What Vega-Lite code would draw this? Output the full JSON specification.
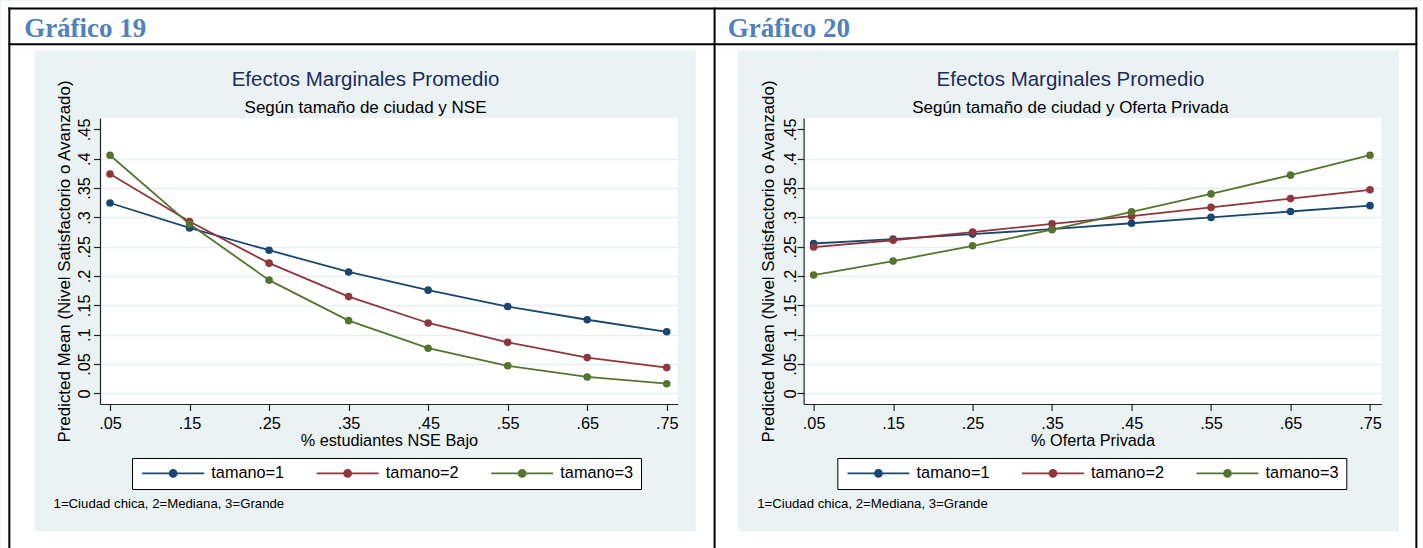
{
  "$schema": "https://vega.github.io/schema/vega-lite/v6.json",
  "background": "#eaf2f3",
  "padding": 0,
  "spacing": 125.6,
  "bounds": "flush",
  "resolve": {"scale": {"color": "independent"}, "legend": {"color": "independent"}},
  "config": {
    "font": "Liberation Sans",
    "view": {"stroke": null, "fill": "white"},
    "axis": {
      "domainColor": "#222222",
      "domainWidth": 1.2,
      "tickColor": "#222222",
      "tickWidth": 1.2,
      "tickSize": 6.5,
      "labelColor": "black",
      "labelFont": "Liberation Sans",
      "labelFontSize": 16.3,
      "labelOverlap": false,
      "labelFlush": false,
      "labelBound": false,
      "titleColor": "black",
      "titleFont": "Liberation Sans",
      "titleFontSize": 16.3,
      "titleFontWeight": "normal"
    },
    "legend": {
      "orient": "none",
      "legendY": 340,
      "direction": "horizontal",
      "fillColor": "white",
      "strokeColor": "black",
      "padding": 7,
      "columnPadding": 27.5,
      "symbolOffset": 26,
      "labelOffset": 30,
      "symbolType": "M-6.2,0L6.2,0M-0.7,0A0.7,0.7,0,1,0,0.7,0A0.7,0.7,0,1,0,-0.7,0M-0.5,0A0.5,0.5,0,1,0,0.5,0A0.5,0.5,0,1,0,-0.5,0M-0.3,0A0.3,0.3,0,1,0,0.3,0A0.3,0.3,0,1,0,-0.3,0M-0.1,0A0.1,0.1,0,1,0,0.1,0A0.1,0.1,0,1,0,-0.1,0",
      "symbolSize": 100,
      "symbolStrokeWidth": 1.8,
      "labelFont": "Liberation Sans",
      "labelFontSize": 16.3,
      "labelColor": "black"
    }
  },
  "datasets": {
    "nse": [
      {"pct": 0.05, "tamano": 1, "media": 0.3245}, {"pct": 0.15, "tamano": 1, "media": 0.282},
      {"pct": 0.25, "tamano": 1, "media": 0.244}, {"pct": 0.35, "tamano": 1, "media": 0.207},
      {"pct": 0.45, "tamano": 1, "media": 0.176}, {"pct": 0.55, "tamano": 1, "media": 0.148},
      {"pct": 0.65, "tamano": 1, "media": 0.1255}, {"pct": 0.75, "tamano": 1, "media": 0.105},
      {"pct": 0.05, "tamano": 2, "media": 0.374}, {"pct": 0.15, "tamano": 2, "media": 0.293},
      {"pct": 0.25, "tamano": 2, "media": 0.222}, {"pct": 0.35, "tamano": 2, "media": 0.165},
      {"pct": 0.45, "tamano": 2, "media": 0.120}, {"pct": 0.55, "tamano": 2, "media": 0.087},
      {"pct": 0.65, "tamano": 2, "media": 0.061}, {"pct": 0.75, "tamano": 2, "media": 0.044},
      {"pct": 0.05, "tamano": 3, "media": 0.406}, {"pct": 0.15, "tamano": 3, "media": 0.2886},
      {"pct": 0.25, "tamano": 3, "media": 0.193}, {"pct": 0.35, "tamano": 3, "media": 0.124},
      {"pct": 0.45, "tamano": 3, "media": 0.077}, {"pct": 0.55, "tamano": 3, "media": 0.047},
      {"pct": 0.65, "tamano": 3, "media": 0.028}, {"pct": 0.75, "tamano": 3, "media": 0.0165}
    ],
    "oferta": [
      {"pct": 0.05, "tamano": 1, "media": 0.2555}, {"pct": 0.15, "tamano": 1, "media": 0.263},
      {"pct": 0.25, "tamano": 1, "media": 0.2715}, {"pct": 0.35, "tamano": 1, "media": 0.280},
      {"pct": 0.45, "tamano": 1, "media": 0.290}, {"pct": 0.55, "tamano": 1, "media": 0.300},
      {"pct": 0.65, "tamano": 1, "media": 0.310}, {"pct": 0.75, "tamano": 1, "media": 0.320},
      {"pct": 0.05, "tamano": 2, "media": 0.2494}, {"pct": 0.15, "tamano": 2, "media": 0.261},
      {"pct": 0.25, "tamano": 2, "media": 0.275}, {"pct": 0.35, "tamano": 2, "media": 0.289},
      {"pct": 0.45, "tamano": 2, "media": 0.302}, {"pct": 0.55, "tamano": 2, "media": 0.317},
      {"pct": 0.65, "tamano": 2, "media": 0.332}, {"pct": 0.75, "tamano": 2, "media": 0.347},
      {"pct": 0.05, "tamano": 3, "media": 0.2017}, {"pct": 0.15, "tamano": 3, "media": 0.2255},
      {"pct": 0.25, "tamano": 3, "media": 0.2516}, {"pct": 0.35, "tamano": 3, "media": 0.279},
      {"pct": 0.45, "tamano": 3, "media": 0.3095}, {"pct": 0.55, "tamano": 3, "media": 0.340},
      {"pct": 0.65, "tamano": 3, "media": 0.372}, {"pct": 0.75, "tamano": 3, "media": 0.406}
    ]
  },
  "hconcat": [
    {
      "width": 577.7,
      "height": 286,
      "title": {
        "text": "Efectos Marginales Promedio",
        "subtitle": "Según tamaño de ciudad y NSE",
        "anchor": "middle",
        "frame": "group",
        "orient": "top",
        "offset": -115,
        "dx": -23.3,
        "font": "Liberation Sans",
        "fontSize": 20.5,
        "fontWeight": "normal",
        "color": "#1c2c5b",
        "subtitleFont": "Liberation Sans",
        "subtitleFontSize": 17,
        "subtitleColor": "black",
        "subtitlePadding": 9
      },
      "layer": [
        {
          "data": {"values": [{}]},
          "mark": {"type": "rect", "fill": "white"},
          "encoding": {
            "x": {"datum": -0.0871, "type": "quantitative", "scale": {"domain": [0.0374, 0.7638], "nice": false, "zero": false}},
            "x2": {"datum": 0.8098},
            "y": {"datum": 0.585, "type": "quantitative", "scale": {"domain": [-0.0181, 0.4694], "nice": false, "zero": false}},
            "y2": {"datum": 0.6693}
          }
        },
        {
          "data": {"values": [{}]},
          "mark": {"type": "rect", "fill": "white"},
          "encoding": {
            "x": {"datum": -0.0871, "type": "quantitative"},
            "x2": {"datum": -0.045},
            "y": {"datum": -0.2648, "type": "quantitative"},
            "y2": {"datum": 0.585}
          }
        },
        {
          "data": {"values": [{}]},
          "mark": {"type": "rect", "fill": "white"},
          "encoding": {
            "x": {"datum": 0.7865, "type": "quantitative"},
            "x2": {"datum": 0.8098},
            "y": {"datum": -0.2648, "type": "quantitative"},
            "y2": {"datum": 0.585}
          }
        },
        {
          "data": {"values": [{}]},
          "mark": {"type": "rect", "fill": "white"},
          "encoding": {
            "x": {"datum": -0.0871, "type": "quantitative"},
            "x2": {"datum": 0.8098},
            "y": {"datum": -0.2648, "type": "quantitative"},
            "y2": {"datum": -0.2352}
          }
        },
        {
          "data": {"values": [{}]},
          "mark": {"type": "rule", "stroke": "black", "strokeWidth": 2},
          "encoding": {
            "x": {"datum": -0.0766, "type": "quantitative"},
            "y": {"datum": -0.2648, "type": "quantitative"},
            "y2": {"datum": 0.6579}
          }
        },
        {
          "data": {"values": [{}]},
          "mark": {"type": "rule", "stroke": "black", "strokeWidth": 2},
          "encoding": {
            "x": {"datum": -0.0779, "type": "quantitative"},
            "x2": {"datum": 0.8098},
            "y": {"datum": 0.6562, "type": "quantitative"}
          }
        },
        {
          "data": {"values": [{}]},
          "mark": {"type": "rule", "stroke": "black", "strokeWidth": 2},
          "encoding": {
            "x": {"datum": -0.0779, "type": "quantitative"},
            "x2": {"datum": 0.8098},
            "y": {"datum": 0.5949, "type": "quantitative"}
          }
        },
        {
          "data": {"name": "nse"},
          "mark": {"type": "line", "strokeWidth": 1.8, "point": {"filled": true, "size": 58, "opacity": 1}},
          "encoding": {
            "x": {
              "field": "pct", "type": "quantitative",
              "scale": {"domain": [0.0374, 0.7638], "nice": false, "zero": false},
              "axis": {
                "grid": false,
                "values": [0.05, 0.15, 0.25, 0.35, 0.45, 0.55, 0.65, 0.75],
                "labelExpr": "slice(format(datum.value, '.2f'), 1)",
                "labelOverlap": false,
                "labelAngle": 0, "labelAlign": "center", "labelBaseline": "alphabetic", "labelPadding": 17.8,
                "title": "% estudiantes NSE Bajo", "titleBaseline": "alphabetic", "titleY": 41.2
              }
            },
            "y": {
              "field": "media", "type": "quantitative",
              "scale": {"domain": [-0.0181, 0.4694], "nice": false, "zero": false},
              "axis": {
                "grid": true,
                "gridColor": {"condition": {"test": "datum.value > 0.42", "value": "transparent"}, "value": "#e6eff1"},
                "gridWidth": 1.6,
                "tickCount": 10,
                "values": [0, 0.05, 0.1, 0.15, 0.2, 0.25, 0.3, 0.35, 0.4, 0.45],
                "labelExpr": "datum.value == 0 ? '0' : slice(format(datum.value, '.2~f'), 1)",
                "labelOverlap": false,
                "labelAngle": 270, "labelAlign": "center", "labelBaseline": "alphabetic", "labelPadding": 4,
                "labelFontSize": 16.3,
                "title": "Predicted Mean (Nivel Satisfactorio o Avanzado)",
                "titleFontSize": 16.9,
                "titleAngle": 270, "titleAlign": "center", "titleBaseline": "alphabetic",
                "titleX": -30.6, "titleY": 143
              }
            },
            "color": {
              "field": "tamano", "type": "nominal",
              "scale": {"domain": [1, 2, 3], "range": ["#1a476f", "#90353b", "#55752f"]},
              "legend": {"title": null, "legendX": 32, "labelExpr": "'tamano=' + datum.label"}
            }
          }
        },
        {
          "data": {"values": [{}]},
          "mark": {"type": "text", "text": "Gráfico 19", "align": "left", "baseline": "alphabetic", "font": "Liberation Serif", "fontWeight": "bold", "fontSize": 27, "fill": "#4f81bd"},
          "encoding": {
            "x": {"datum": -0.058, "type": "quantitative"},
            "y": {"datum": 0.608, "type": "quantitative"}
          }
        },
        {
          "data": {"values": [{}]},
          "mark": {"type": "text", "text": "1=Ciudad chica, 2=Mediana, 3=Grande", "align": "left", "baseline": "alphabetic", "font": "Liberation Sans", "fontSize": 13.2, "fill": "black"},
          "encoding": {
            "x": {"datum": -0.021, "type": "quantitative"},
            "y": {"datum": -0.1953, "type": "quantitative"}
          }
        }
      ]
    },
    {
      "width": 577.7,
      "height": 286,
      "title": {
        "text": "Efectos Marginales Promedio",
        "subtitle": "Según tamaño de ciudad y Oferta Privada",
        "anchor": "middle",
        "frame": "group",
        "orient": "top",
        "offset": -115,
        "dx": -22,
        "font": "Liberation Sans",
        "fontSize": 20.5,
        "fontWeight": "normal",
        "color": "#1c2c5b",
        "subtitleFont": "Liberation Sans",
        "subtitleFontSize": 17,
        "subtitleColor": "black",
        "subtitlePadding": 9
      },
      "layer": [
        {
          "data": {"values": [{}]},
          "mark": {"type": "rect", "fill": "white"},
          "encoding": {
            "x": {"datum": -0.0746, "type": "quantitative", "scale": {"domain": [0.0374, 0.7642], "nice": false, "zero": false}},
            "x2": {"datum": 0.8184},
            "y": {"datum": 0.585, "type": "quantitative", "scale": {"domain": [-0.0181, 0.4694], "nice": false, "zero": false}},
            "y2": {"datum": 0.6693}
          }
        },
        {
          "data": {"values": [{}]},
          "mark": {"type": "rect", "fill": "white"},
          "encoding": {
            "x": {"datum": -0.0746, "type": "quantitative"},
            "x2": {"datum": -0.045},
            "y": {"datum": -0.2648, "type": "quantitative"},
            "y2": {"datum": 0.585}
          }
        },
        {
          "data": {"values": [{}]},
          "mark": {"type": "rect", "fill": "white"},
          "encoding": {
            "x": {"datum": 0.7865, "type": "quantitative"},
            "x2": {"datum": 0.8184},
            "y": {"datum": -0.2648, "type": "quantitative"},
            "y2": {"datum": 0.585}
          }
        },
        {
          "data": {"values": [{}]},
          "mark": {"type": "rect", "fill": "white"},
          "encoding": {
            "x": {"datum": -0.0746, "type": "quantitative"},
            "x2": {"datum": 0.8184},
            "y": {"datum": -0.2648, "type": "quantitative"},
            "y2": {"datum": -0.2352}
          }
        },
        {
          "data": {"values": [{}]},
          "mark": {"type": "rule", "stroke": "black", "strokeWidth": 2},
          "encoding": {
            "x": {"datum": -0.0746, "type": "quantitative"},
            "y": {"datum": -0.2648, "type": "quantitative"},
            "y2": {"datum": 0.6579}
          }
        },
        {
          "data": {"values": [{}]},
          "mark": {"type": "rule", "stroke": "black", "strokeWidth": 2},
          "encoding": {
            "x": {"datum": 0.8083, "type": "quantitative"},
            "y": {"datum": -0.2648, "type": "quantitative"},
            "y2": {"datum": 0.6579}
          }
        },
        {
          "data": {"values": [{}]},
          "mark": {"type": "rule", "stroke": "black", "strokeWidth": 2},
          "encoding": {
            "x": {"datum": -0.0746, "type": "quantitative"},
            "x2": {"datum": 0.8096},
            "y": {"datum": 0.6562, "type": "quantitative"}
          }
        },
        {
          "data": {"values": [{}]},
          "mark": {"type": "rule", "stroke": "black", "strokeWidth": 2},
          "encoding": {
            "x": {"datum": -0.0746, "type": "quantitative"},
            "x2": {"datum": 0.8096},
            "y": {"datum": 0.5949, "type": "quantitative"}
          }
        },
        {
          "data": {"name": "oferta"},
          "mark": {"type": "line", "strokeWidth": 1.8, "point": {"filled": true, "size": 58, "opacity": 1}},
          "encoding": {
            "x": {
              "field": "pct", "type": "quantitative",
              "scale": {"domain": [0.0374, 0.7642], "nice": false, "zero": false},
              "axis": {
                "grid": false,
                "values": [0.05, 0.15, 0.25, 0.35, 0.45, 0.55, 0.65, 0.75],
                "labelExpr": "slice(format(datum.value, '.2f'), 1)",
                "labelOverlap": false,
                "labelAngle": 0, "labelAlign": "center", "labelBaseline": "alphabetic", "labelPadding": 17.8,
                "title": "% Oferta Privada", "titleBaseline": "alphabetic", "titleY": 41.2
              }
            },
            "y": {
              "field": "media", "type": "quantitative",
              "scale": {"domain": [-0.0181, 0.4694], "nice": false, "zero": false},
              "axis": {
                "grid": true,
                "gridColor": {"condition": {"test": "datum.value > 0.42", "value": "transparent"}, "value": "#e6eff1"},
                "gridWidth": 1.6,
                "tickCount": 10,
                "values": [0, 0.05, 0.1, 0.15, 0.2, 0.25, 0.3, 0.35, 0.4, 0.45],
                "labelExpr": "datum.value == 0 ? '0' : slice(format(datum.value, '.2~f'), 1)",
                "labelOverlap": false,
                "labelAngle": 270, "labelAlign": "center", "labelBaseline": "alphabetic", "labelPadding": 2,
                "labelFontSize": 16.3,
                "title": "Predicted Mean (Nivel Satisfactorio o Avanzado)",
                "titleFontSize": 16.9,
                "titleAngle": 270, "titleAlign": "center", "titleBaseline": "alphabetic",
                "titleX": -30.6, "titleY": 143
              }
            },
            "color": {
              "field": "tamano", "type": "nominal",
              "scale": {"domain": [1, 2, 3], "range": ["#1a476f", "#90353b", "#55752f"]},
              "legend": {"title": null, "legendX": 33.7, "labelExpr": "'tamano=' + datum.label"}
            }
          }
        },
        {
          "data": {"values": [{}]},
          "mark": {"type": "text", "text": "Gráfico 20", "align": "left", "baseline": "alphabetic", "font": "Liberation Serif", "fontWeight": "bold", "fontSize": 27, "fill": "#4f81bd"},
          "encoding": {
            "x": {"datum": -0.058, "type": "quantitative"},
            "y": {"datum": 0.608, "type": "quantitative"}
          }
        },
        {
          "data": {"values": [{}]},
          "mark": {"type": "text", "text": "1=Ciudad chica, 2=Mediana, 3=Grande", "align": "left", "baseline": "alphabetic", "font": "Liberation Sans", "fontSize": 13.2, "fill": "black"},
          "encoding": {
            "x": {"datum": -0.021, "type": "quantitative"},
            "y": {"datum": -0.1953, "type": "quantitative"}
          }
        }
      ]
    }
  ]
}
